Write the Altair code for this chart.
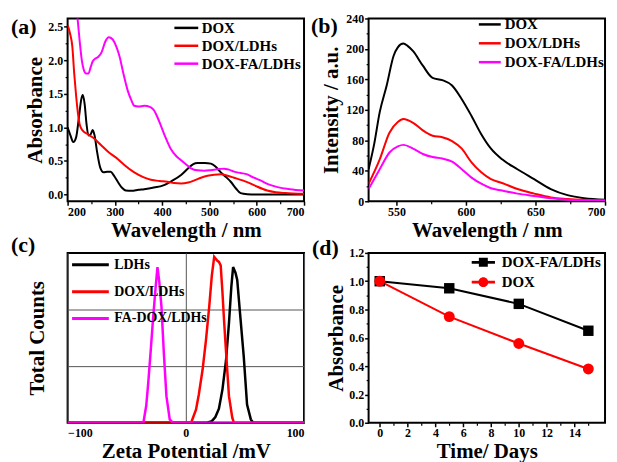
import altair as alt
import pandas as pd

FONT = "Liberation Serif"
BLACK, RED, MAGENTA = "#000000", "#ff0000", "#ff00ff"

# ---------------- (a) UV-vis absorbance ----------------
A_SERIES = ["DOX", "DOX/LDHs", "DOX-FA/LDHs"]
A_COLORS = [BLACK, RED, MAGENTA]
a_dox_wl = [200, 206, 212, 218, 224, 229, 232, 236, 240, 244, 249, 253, 257, 262, 269, 276, 284, 291, 298, 306,
            315, 323, 335, 350, 362, 380, 404, 420, 440, 455, 465, 475, 490, 503, 512, 524, 535, 545, 556, 566,
            580, 600, 700]
a_dox_abs = [1.00, 0.88, 0.78, 0.85, 1.15, 1.42, 1.48, 1.35, 1.05, 0.88, 0.90, 0.96, 0.88, 0.65, 0.40, 0.33, 0.34,
             0.34, 0.28, 0.19, 0.10, 0.06, 0.055, 0.07, 0.08, 0.10, 0.14, 0.20, 0.29, 0.39, 0.45, 0.47, 0.47, 0.46,
             0.42, 0.33, 0.26, 0.19, 0.09, 0.02, 0.005, 0.0, 0.0]
a_ldh_wl = [200, 205, 210, 214, 218, 222, 226, 232, 242, 255, 270, 285, 306, 320, 341, 360, 376, 395, 411, 425,
            440, 455, 468, 482, 496, 510, 524, 538, 552, 570, 585, 600, 622, 640, 660, 700]
a_ldh_abs = [2.52, 2.40, 2.20, 1.80, 1.47, 1.20, 1.03, 0.95, 0.90, 0.84, 0.74, 0.64, 0.53, 0.44, 0.33, 0.26, 0.22,
             0.20, 0.19, 0.17, 0.165, 0.18, 0.21, 0.25, 0.28, 0.295, 0.30, 0.28, 0.25, 0.21, 0.17, 0.12, 0.06,
             0.035, 0.022, 0.01]
a_fa_wl = [214, 218, 222, 226, 230, 234, 239, 244, 249, 253, 258, 265, 272, 280, 287, 295, 303, 310, 318, 327,
           335, 341, 350, 362, 375, 383, 390, 397, 407, 418, 430, 440, 452, 461, 475, 489, 500, 510, 522, 531,
           541, 552, 566, 580, 594, 608, 625, 644, 670, 700]
a_fa_abs = [3.20, 2.85, 2.55, 2.25, 2.00, 1.86, 1.80, 1.80, 1.90, 1.98, 2.02, 2.05, 2.12, 2.28, 2.34, 2.31, 2.20,
            2.05, 1.80, 1.55, 1.40, 1.32, 1.31, 1.32, 1.30, 1.25, 1.15, 1.03, 0.85, 0.68, 0.57, 0.51, 0.44, 0.39,
            0.36, 0.355, 0.36, 0.37, 0.38, 0.385, 0.37, 0.34, 0.32, 0.30, 0.25, 0.21, 0.15, 0.11, 0.08, 0.06]
a_x_ticks = [200, 300, 400, 500, 600, 700]
a_x_minor = [250, 350, 450, 550, 650]
a_y_ticks = [0.0, 0.5, 1.0, 1.5, 2.0, 2.5]
a_y_minor = [0.25, 0.75, 1.25, 1.75, 2.25]

# ---------------- (b) fluorescence ----------------
B_SERIES = ["DOX", "DOX/LDHs", "DOX-FA/LDHs"]
B_COLORS = [BLACK, RED, MAGENTA]
b_dox_wl = [530, 534, 538, 543, 548, 551, 555, 558, 562, 569, 576, 583, 590, 597, 604, 611, 618, 626, 637, 649,
            661, 673, 685, 700]
b_dox_int = [42, 75, 117, 152, 191, 202, 207, 204, 197, 178, 162, 159, 152, 134, 112, 88, 69, 55, 42, 29, 16, 8, 4, 2]
b_ldh_wl = [530, 538, 545, 551, 555, 562, 569, 576, 583, 590, 597, 604, 611, 618, 626, 637, 649, 661, 673, 700]
b_ldh_int = [23, 55, 90, 104, 108, 103, 93, 86, 84, 79, 69, 51, 38, 29, 24, 16, 10, 5, 3, 1]
b_fa_wl = [530, 538, 545, 551, 555, 562, 569, 576, 583, 590, 597, 604, 611, 618, 626, 637, 649, 661, 673, 700]
b_fa_int = [16, 42, 64, 72, 74, 69, 62, 58, 56, 52, 42, 31, 23, 17, 14, 10, 7, 4, 2, 1]
b_x_ticks = [550, 600, 650, 700]
b_x_minor = [575, 625, 675]
b_y_ticks = [0, 40, 80, 120, 160, 200, 240]
b_y_minor = [20, 60, 100, 140, 180, 220]

# ---------------- (c) zeta potential ----------------
C_SERIES = ["LDHs", "DOX/LDHs", "FA-DOX/LDHs"]
C_COLORS = [BLACK, RED, MAGENTA]
c_ldh_mv = [-100, 18, 22, 25, 28, 31, 34, 36.5, 38.5, 40, 42, 43.5, 46, 49, 51.8, 55, 57, 100]
c_ldh_cnt = [0, 0, 0.03, 0.10, 0.25, 0.59, 1.10, 1.76, 2.40, 2.75, 2.65, 2.52, 1.90, 1.17, 0.32, 0.06, 0, 0]
c_dox_mv = [-100, 4.5, 8.6, 11, 14.2, 17, 19.8, 22, 24, 26.7, 28, 29.5, 31, 32.3, 34.5, 36.5, 39.3, 40.7, 100]
c_dox_cnt = [0, 0, 0.23, 0.50, 0.94, 1.45, 2.05, 2.60, 2.93, 2.86, 2.84, 2.78, 2.30, 1.82, 1.10, 0.47, 0.09, 0, 0]
c_fa_mv = [-100, -35.9, -33.5, -31.8, -29.6, -27.6, -25.5, -24, -22.5, -20.6, -18.5, -16.4, -13.6, -10.9, 100]
c_fa_cnt = [0, 0, 0.30, 0.70, 1.30, 1.87, 2.40, 2.75, 2.50, 2.05, 1.20, 0.47, 0.06, 0, 0]
c_x_ticks = [-100, 0, 100]
c_y_grid = [1, 2]

# ---------------- (d) absorbance vs time ----------------
D_SERIES = ["DOX-FA/LDHs", "DOX"]
D_COLORS = [BLACK, RED]
d_days = [0, 5, 10, 15]
d_fa = [1.00, 0.95, 0.84, 0.65]
d_dox = [1.00, 0.75, 0.56, 0.38]
d_x_ticks = [0, 2, 4, 6, 8, 10, 12, 14]
d_x_minor = [1, 3, 5, 7, 9, 11, 13, 15]
d_y_ticks = [0.0, 0.2, 0.4, 0.6, 0.8, 1.0, 1.2]
d_y_minor = [0.1, 0.3, 0.5, 0.7, 0.9, 1.1]

PANEL_LABELS = ["(a)", "(b)", "(c)", "(d)"]


def series_df(xs_list, ys_list, names):
    rows = []
    for xs, ys, n in zip(xs_list, ys_list, names):
        for x, y in zip(xs, ys):
            rows.append({"x": x, "y": y, "series": n})
    return pd.DataFrame(rows)


def legend(**kw):
    base = dict(title=None, orient="none", labelFont=FONT, labelFontWeight="bold", labelColor="black",
                labelLimit=300, padding=0)
    base.update(kw)
    return alt.Legend(**base)


def line_symbol(half_len):
    # horizontal stroke symbol, longer than the symbol box so that rows can stay tight
    return f"M{-half_len},0H{half_len}"


def minor_axis(values, orient):
    return alt.Axis(values=values, orient=orient, labels=False, title=None, tickSize=2.5, grid=False,
                    domain=False, tickWidth=1.2)


def label_layer(text, dx, dy):
    return alt.Chart(pd.DataFrame({"t": [text]})).mark_text(
        font=FONT, fontSize=22, fontWeight="bold", align="left", baseline="middle", color="black"
    ).encode(text="t:N", x=alt.value(dx), y=alt.value(dy))


# ----- panel a -----
a_df = series_df([a_dox_wl, a_ldh_wl, a_fa_wl], [a_dox_abs, a_ldh_abs, a_fa_abs], A_SERIES)
a_xs = alt.Scale(domain=[200, 700], nice=False)
a_ys = alt.Scale(domain=[-0.1, 2.62], nice=False)
a_lines = alt.Chart(a_df).mark_line(strokeWidth=2, interpolate="monotone", clip=True).encode(
    x=alt.X("x:Q", scale=a_xs, axis=alt.Axis(values=a_x_ticks, title="Wavelength / nm", orient="bottom")),
    y=alt.Y("y:Q", scale=a_ys, axis=alt.Axis(values=a_y_ticks, format=".1f", title="Absorbance", orient="left")),
    color=alt.Color("series:N", scale=alt.Scale(domain=A_SERIES, range=A_COLORS),
                    legend=legend(legendX=110, legendY=0, labelFontSize=15, symbolType=line_symbol(1.5),
                                  symbolStrokeWidth=2.5, symbolSize=256, rowPadding=-10, labelOffset=6)),
)
a_minor = alt.Chart(a_df).mark_line(opacity=0, clip=True).encode(
    x=alt.X("x:Q", scale=a_xs, axis=minor_axis(a_x_minor, "bottom")),
    y=alt.Y("y:Q", scale=a_ys, axis=minor_axis(a_y_minor, "left")),
)
panel_a = alt.layer(a_lines, a_minor, label_layer(PANEL_LABELS[0], -57, 9)).resolve_axis(
    x="independent", y="independent").properties(width=238, height=184)

# ----- panel b -----
b_df = series_df([b_dox_wl, b_ldh_wl, b_fa_wl], [b_dox_int, b_ldh_int, b_fa_int], B_SERIES)
b_xs = alt.Scale(domain=[530, 700], nice=False)
b_ys = alt.Scale(domain=[0, 240], nice=False)
b_lines = alt.Chart(b_df).mark_line(strokeWidth=2, interpolate="monotone", clip=True).encode(
    x=alt.X("x:Q", scale=b_xs, axis=alt.Axis(values=b_x_ticks, title="Wavelength / nm", orient="bottom")),
    y=alt.Y("y:Q", scale=b_ys, axis=alt.Axis(values=b_y_ticks, title="Intensity / a.u.", orient="left",
                                             titlePadding=4)),
    color=alt.Color("series:N", scale=alt.Scale(domain=B_SERIES, range=B_COLORS),
                    legend=legend(legendX=111, legendY=-5, labelFontSize=15, symbolType=line_symbol(1.13),
                                  symbolStrokeWidth=2.5, symbolSize=380, rowPadding=-1, labelOffset=4)),
)
b_minor = alt.Chart(b_df).mark_line(opacity=0, clip=True).encode(
    x=alt.X("x:Q", scale=b_xs, axis=minor_axis(b_x_minor, "bottom")),
    y=alt.Y("y:Q", scale=b_ys, axis=minor_axis(b_y_minor, "left")),
)
panel_b = alt.layer(b_lines, b_minor, label_layer(PANEL_LABELS[1], -58, 8)).resolve_axis(
    x="independent", y="independent").properties(width=238, height=184)

# ----- panel c -----
c_df = series_df([c_ldh_mv, c_dox_mv, c_fa_mv], [c_ldh_cnt, c_dox_cnt, c_fa_cnt], C_SERIES)
c_lines = alt.Chart(c_df).mark_line(strokeWidth=2.5, clip=True).encode(
    x=alt.X("x:Q", scale=alt.Scale(domain=[-100, 100], nice=False),
            axis=alt.Axis(values=c_x_ticks, grid=True, gridColor="#555555", gridWidth=1, ticks=False,
                          labelPadding=5, title="Zeta Potential /mV")),
    y=alt.Y("y:Q", scale=alt.Scale(domain=[0, 3], nice=False),
            axis=alt.Axis(values=c_y_grid, grid=True, gridColor="#555555", gridWidth=1, ticks=False,
                          labels=False, title="Total Counts", titlePadding=20)),
    color=alt.Color("series:N", scale=alt.Scale(domain=C_SERIES, range=C_COLORS),
                    legend=legend(legendX=3, legendY=-8, labelFontSize=14, symbolType="stroke",
                                  symbolStrokeWidth=3, symbolSize=1369, rowPadding=-11, labelOffset=4)),
)
panel_c = alt.layer(c_lines, label_layer(PANEL_LABELS[2], -57, -8)).properties(width=238, height=171)

# ----- panel d -----
d_df = series_df([d_days, d_days], [d_fa, d_dox], D_SERIES)
d_xs = alt.Scale(domain=[-0.8, 16.2], nice=False)
d_ys = alt.Scale(domain=[0, 1.2], nice=False)
d_x_main = alt.X("x:Q", scale=d_xs, axis=alt.Axis(values=d_x_ticks, title="Time/ Days", orient="bottom"))
d_y_main = alt.Y("y:Q", scale=d_ys, axis=alt.Axis(values=d_y_ticks, format=".1f", title="Absorbance",
                                                  orient="left"))
d_x = alt.X("x:Q", scale=d_xs, axis=None)
d_y = alt.Y("y:Q", scale=d_ys, axis=None)
is_fa = alt.datum.series == D_SERIES[0]
is_dox = alt.datum.series == D_SERIES[1]
d_line_fa = alt.Chart(d_df).transform_filter(is_fa).mark_line(strokeWidth=2, color=D_COLORS[0]).encode(
    x=d_x_main, y=d_y_main)
d_line_dox = alt.Chart(d_df).transform_filter(is_dox).mark_line(strokeWidth=2, color=D_COLORS[1]).encode(
    x=d_x, y=d_y)
d_squares = alt.Chart(d_df).transform_filter(is_fa).mark_point(
    shape="square", filled=True, size=110, opacity=1, color=D_COLORS[0]).encode(x=d_x, y=d_y)
d_circles = alt.Chart(d_df).transform_filter(is_dox).mark_point(
    shape="circle", filled=True, size=120, opacity=1, color=D_COLORS[1]).encode(x=d_x, y=d_y)
SQ_PATH = "M-2.6,-0.3H2.6V0.3H-2.6Z M-1,-1H1V1H-1Z"
CI_PATH = "M-2.6,-0.3H2.6V0.3H-2.6Z M1.1,0A1.1,1.1 0 1,1 -1.1,0A1.1,1.1 0 1,1 1.1,0Z"
d_leg_props = dict(legendX=108, legendY=2, labelFontSize=15, symbolSize=81, rowPadding=4, labelOffset=11)
d_legend = alt.Chart(d_df).transform_filter("false").mark_point(filled=True, opacity=1, size=81).encode(
    x=d_x, y=d_y,
    color=alt.Color("series:N", scale=alt.Scale(domain=D_SERIES, range=D_COLORS), legend=legend(**d_leg_props)),
    shape=alt.Shape("series:N", scale=alt.Scale(domain=D_SERIES, range=[SQ_PATH, CI_PATH]),
                    legend=legend(**d_leg_props)),
)
d_minor = alt.Chart(d_df).mark_line(opacity=0).encode(
    x=alt.X("x:Q", scale=d_xs, axis=minor_axis(d_x_minor, "bottom")),
    y=alt.Y("y:Q", scale=d_ys, axis=minor_axis(d_y_minor, "left")),
)
panel_d = alt.layer(d_line_fa, d_line_dox, d_squares, d_circles, d_legend, d_minor,
                    label_layer(PANEL_LABELS[3], -57, -5)).resolve_axis(
    x="independent", y="independent").properties(width=238, height=171)

chart = alt.concat(panel_a, panel_b, panel_c, panel_d, columns=2, bounds="flush",
                   spacing={"row": 52, "column": 65}).resolve_scale(
    color="independent", shape="independent"
).properties(padding=2, background="white").configure_view(
    stroke="black", strokeWidth=2
).configure_axis(
    labelFont=FONT, labelFontSize=12, labelFontWeight="bold", labelColor="black",
    titleFont=FONT, titleFontSize=21, titleFontWeight="bold", titleColor="black",
    domain=False, tickColor="black", tickWidth=1.5, tickSize=4, grid=False, labelPadding=1, titlePadding=2,
)

chart.save("out.html", embed_options={"renderer": "svg", "actions": False})
